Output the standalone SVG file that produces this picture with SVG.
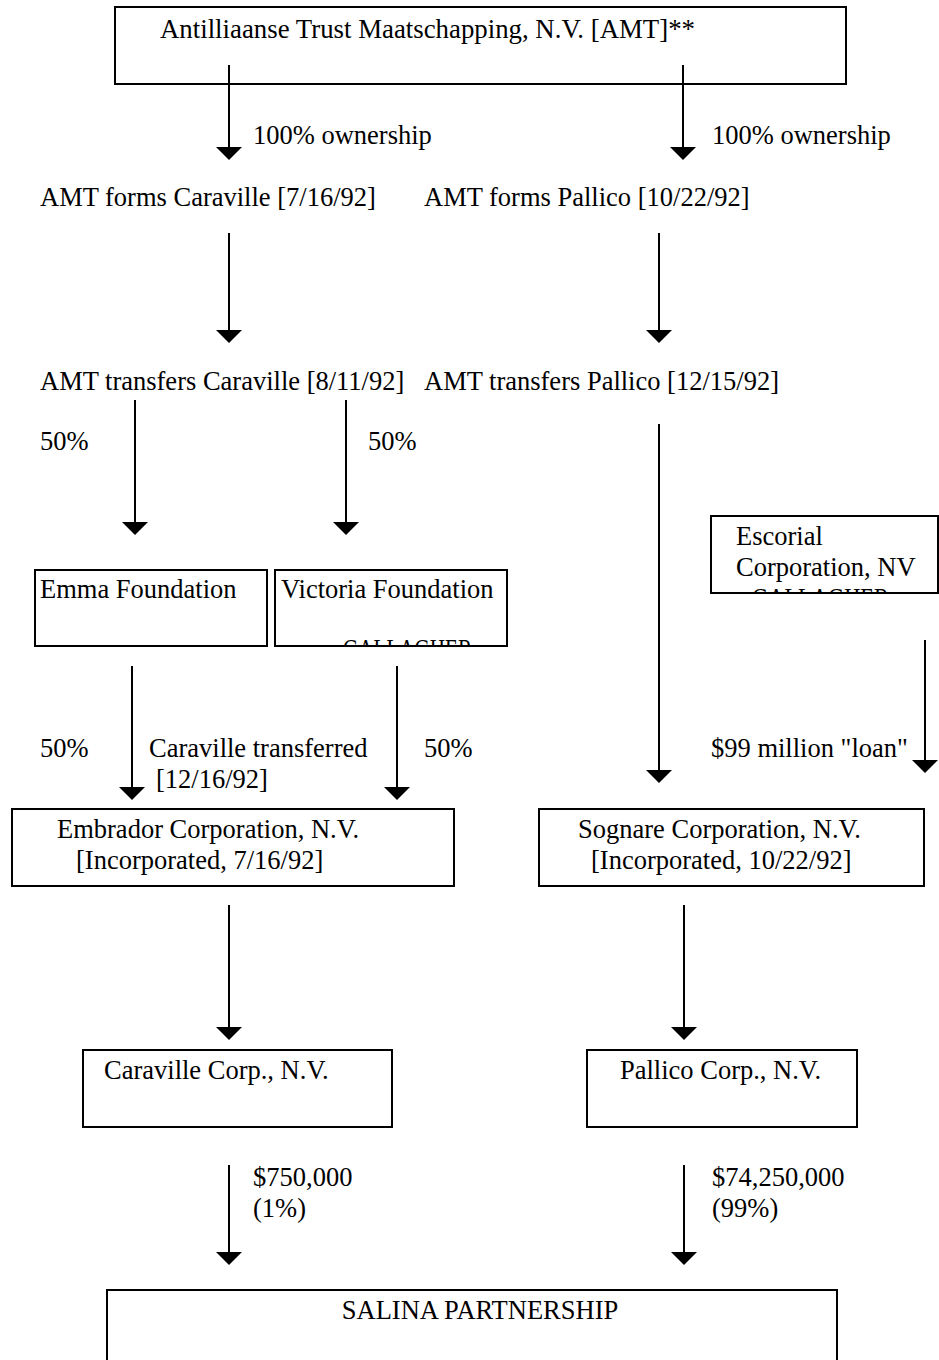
<svg xmlns="http://www.w3.org/2000/svg" width="939" height="1360" viewBox="0 0 939 1360">
<style>
text{font-family:"Liberation Serif","Times New Roman",serif;font-size:26.5px;fill:#000}
.box{fill:#fff;stroke:#000;stroke-width:2}
.con{stroke:#000;stroke-width:2;fill:none;marker-end:url(#ah)}
</style>
<defs>
<marker id="ah" viewBox="0 -13 13 26" refX="7" refY="0" markerWidth="13" markerHeight="26" markerUnits="userSpaceOnUse" orient="auto">
<path d="M0,-13 L13,0 L0,13 Z" fill="#000"/>
</marker>
<clipPath id="clipEsc"><rect x="712" y="517" width="227" height="75"/></clipPath>
<clipPath id="clipVic"><rect x="276" y="571" width="230" height="74"/></clipPath>
</defs>
<rect width="939" height="1360" fill="#fff"/>

<g id="amt">
<rect class="box" x="115" y="7" width="731" height="77"/>
<text x="160" y="38" textLength="535" lengthAdjust="spacingAndGlyphs">Antilliaanse Trust Maatschapping, N.V. [AMT]**</text>
</g>

<g id="forms-caraville"><text x="40" y="206">AMT forms Caraville [7/16/92]</text></g>
<g id="forms-pallico"><text x="424" y="206">AMT forms Pallico [10/22/92]</text></g>
<g id="transfers-caraville"><text x="40" y="390">AMT transfers Caraville [8/11/92]</text></g>
<g id="transfers-pallico"><text x="424" y="390">AMT transfers Pallico [12/15/92]</text></g>

<g id="escorial">
<rect class="box" x="711" y="516" width="227" height="77"/>
<text x="736" y="545">Escorial</text>
<text x="736" y="576">Corporation, NV</text>
<text x="752" y="607" clip-path="url(#clipEsc)" textLength="137" lengthAdjust="spacingAndGlyphs">GALLAGHER</text>
</g>

<g id="emma">
<rect class="box" x="35" y="570" width="232" height="76"/>
<text x="40" y="598">Emma Foundation</text>
</g>

<g id="victoria">
<rect class="box" x="275" y="570" width="232" height="76"/>
<text x="281" y="598">Victoria Foundation</text>
<text x="343" y="658" clip-path="url(#clipVic)" textLength="129" lengthAdjust="spacingAndGlyphs">GALLAGHER</text>
</g>

<g id="embrador">
<rect class="box" x="12" y="809" width="442" height="77"/>
<text x="57" y="838">Embrador Corporation, N.V.</text>
<text x="76" y="869">[Incorporated, 7/16/92]</text>
</g>

<g id="sognare">
<rect class="box" x="539" y="809" width="385" height="77"/>
<text x="578" y="838">Sognare Corporation, N.V.</text>
<text x="591" y="869">[Incorporated, 10/22/92]</text>
</g>

<g id="caraville-corp">
<rect class="box" x="83" y="1050" width="309" height="77"/>
<text x="104" y="1079">Caraville Corp., N.V.</text>
</g>

<g id="pallico-corp">
<rect class="box" x="587" y="1050" width="270" height="77"/>
<text x="620" y="1079">Pallico Corp., N.V.</text>
</g>

<g id="salina">
<rect class="box" x="107" y="1290" width="730" height="80"/>
<text x="480" y="1319" text-anchor="middle">SALINA PARTNERSHIP</text>
</g>

<g id="connectors">
<line class="con" x1="229" y1="65" x2="229" y2="154"/>
<line class="con" x1="683" y1="65" x2="683" y2="154"/>
<line class="con" x1="229" y1="233" x2="229" y2="337"/>
<line class="con" x1="659" y1="233" x2="659" y2="337"/>
<line class="con" x1="135" y1="400" x2="135" y2="529"/>
<line class="con" x1="346" y1="400" x2="346" y2="529"/>
<line class="con" x1="659" y1="424" x2="659" y2="777"/>
<line class="con" x1="925" y1="640" x2="925" y2="767"/>
<line class="con" x1="132" y1="666" x2="132" y2="794"/>
<line class="con" x1="397" y1="666" x2="397" y2="794"/>
<line class="con" x1="229" y1="905" x2="229" y2="1034"/>
<line class="con" x1="684" y1="905" x2="684" y2="1034"/>
<line class="con" x1="229" y1="1165" x2="229" y2="1259"/>
<line class="con" x1="684" y1="1165" x2="684" y2="1259"/>
<text x="253" y="144">100% ownership</text>
<text x="712" y="144">100% ownership</text>
<text x="40" y="450">50%</text>
<text x="368" y="450">50%</text>
<text x="711" y="757">$99 million "loan"</text>
<text x="40" y="757">50%</text>
<text x="149" y="757">Caraville transferred</text>
<text x="156" y="788">[12/16/92]</text>
<text x="424" y="757">50%</text>
<text x="253" y="1186">$750,000</text>
<text x="253" y="1217">(1%)</text>
<text x="712" y="1186">$74,250,000</text>
<text x="712" y="1217">(99%)</text>
</g>
</svg>
